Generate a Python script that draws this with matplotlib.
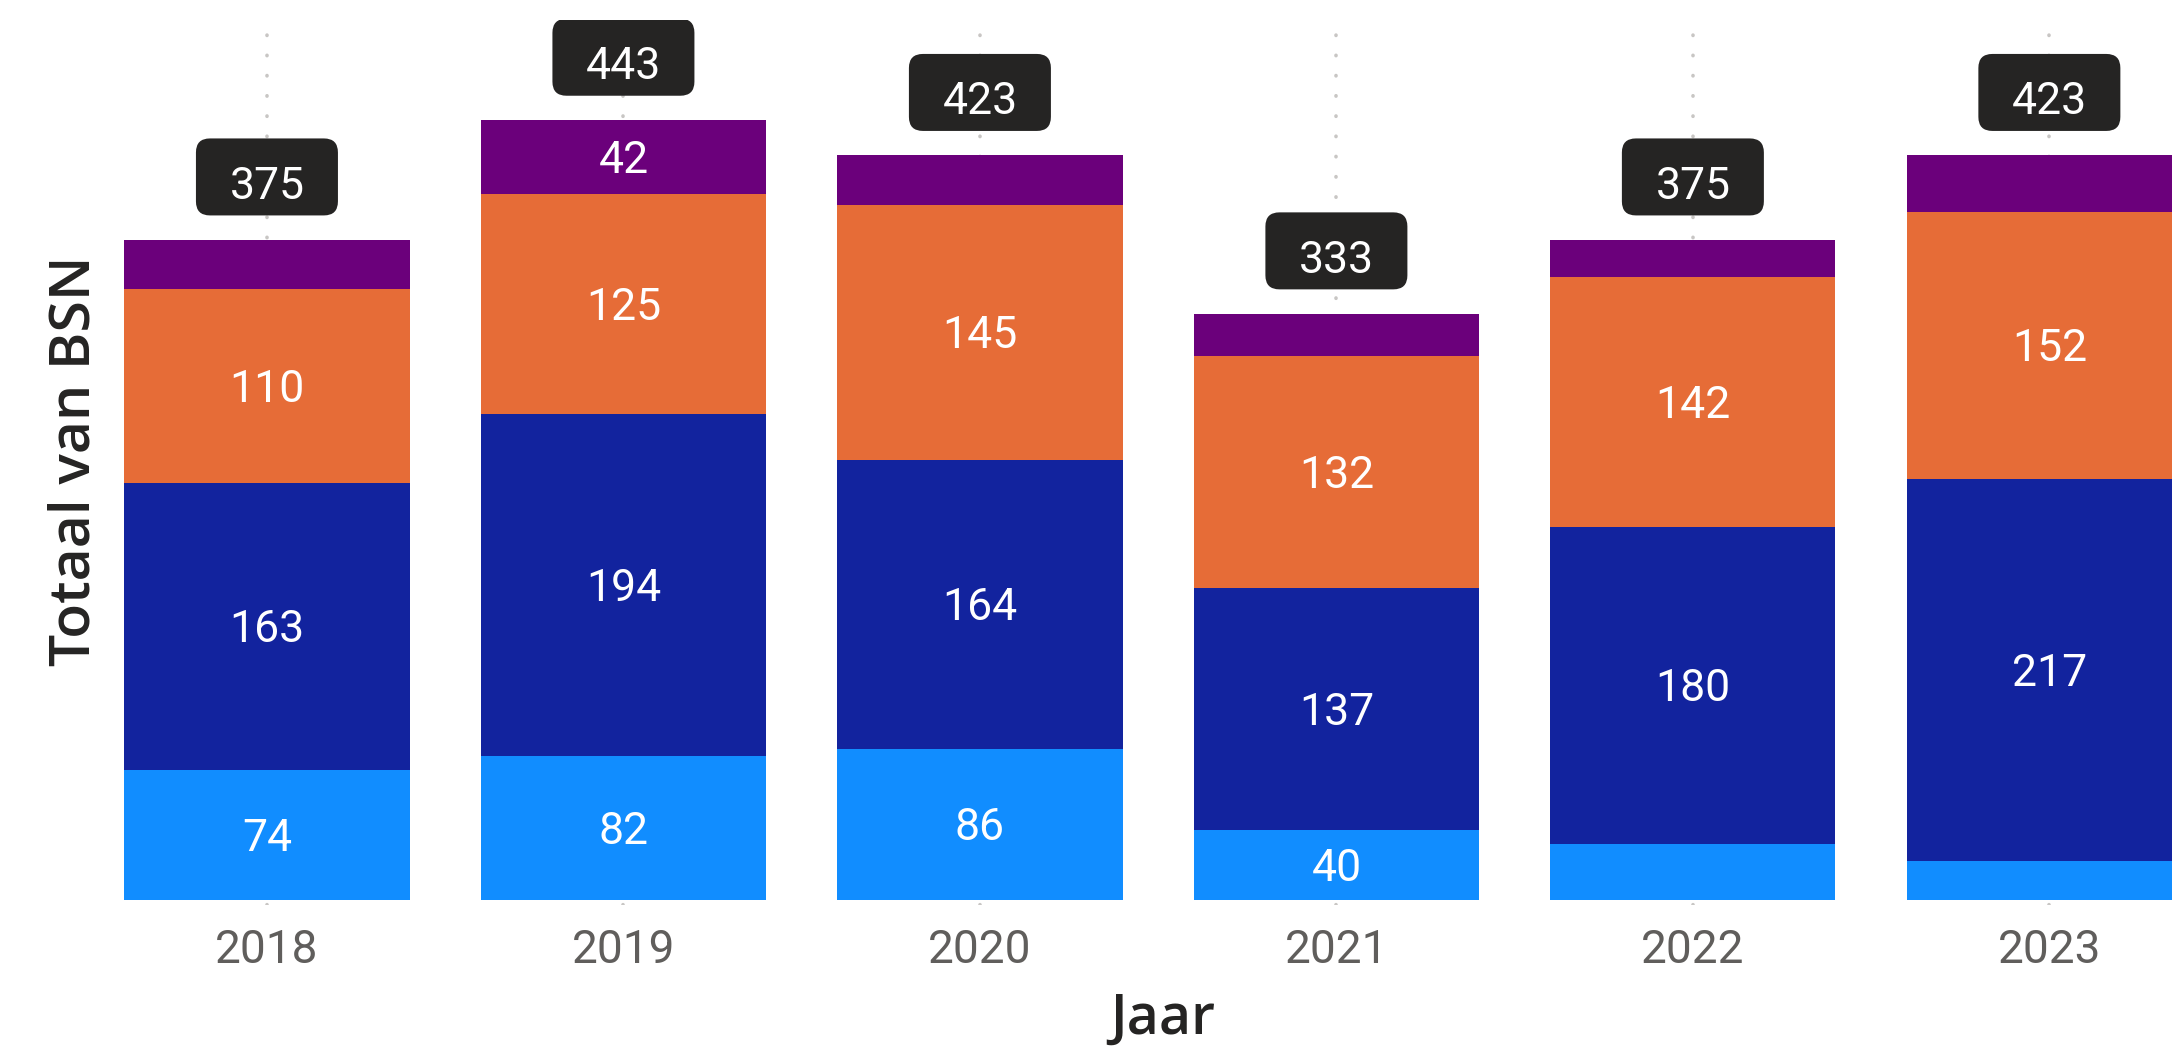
import numpy as np
import matplotlib.pyplot as plt
from matplotlib.patches import FancyBboxPatch

# Data
years = ['2018', '2019', '2020', '2021', '2022', '2023']
licht_blauw = [74, 82, 86, 40, 32, 22]
donker_blauw = [163, 194, 164, 137, 180, 217]
oranje = [110, 125, 145, 132, 142, 152]
paars = [28, 42, 28, 24, 21, 32]

series = [licht_blauw, donker_blauw, oranje, paars]
colors = ['#118DFF', '#12239E', '#E66C37', '#6B007B']

num_font = 'Roboto'
title_font = 'Open Sans'
label_size = 32
cap_px = label_size * 100 / 72 * 0.711  # digit height in pixels

fig = plt.figure(figsize=(21.72, 10.47), dpi=100)
ax = fig.add_axes([0.0497, 0.1353, 0.9503, 0.8457])

x = np.arange(len(years))
ax.set_xlim(-0.446, 5.344)
ax.set_ylim(-3, 500)

px_x = ax.bbox.width / (ax.get_xlim()[1] - ax.get_xlim()[0])
px_y = ax.bbox.height / (ax.get_ylim()[1] - ax.get_ylim()[0])

# dotted category gridlines behind the bars
ax.set_xticks(x)
ax.grid(axis='x', color='#C8C6C4', linewidth=2.6, linestyle=(0, (0.1, 5.5)),
        dash_capstyle='round', zorder=0)
ax.set_axisbelow(True)

bottom = np.zeros(len(years))
for vals, col in zip(series, colors):
    vals = np.array(vals)
    ax.bar(x, vals, width=0.8, bottom=bottom, color=col, zorder=2)
    for xi, b, v in zip(x, bottom, vals):
        if v >= 35:  # label only fits in tall enough segments
            ax.text(xi, b + v / 2 - cap_px / 2 / px_y, str(v), ha='center', va='baseline',
                    color='white', fontsize=label_size, family=num_font, zorder=3)
    bottom += vals

totals = bottom

# total labels in dark rounded boxes
box_w = 142 / px_x
box_h = 77 / px_y
gap = 63 / px_y
for xi, t in zip(x, totals):
    cy = t + gap
    box = FancyBboxPatch((xi - box_w / 2, cy - box_h / 2), box_w, box_h,
                         boxstyle=f'round,pad=0,rounding_size={14 / px_x}',
                         mutation_aspect=px_x / px_y,
                         facecolor='#252423', edgecolor='none', zorder=4)
    ax.add_patch(box)
    ax.text(xi, cy - (cap_px / 2 + 6) / px_y, str(int(t)), ha='center', va='baseline',
            color='white', fontsize=label_size, family=num_font, zorder=5)

ax.set_xticklabels(years, fontsize=33, color='#605E5C', family=num_font)
ax.tick_params(axis='x', length=0, pad=16)
ax.set_yticks([])
for s in ax.spines.values():
    s.set_visible(False)

ax.set_xlabel('Jaar', fontsize=40, color='#252423', family=title_font, fontweight='semibold')
ax.xaxis.set_label_coords(0.511, -0.1445)
ax.xaxis.label.set_va('baseline')
ax.set_ylabel('Totaal van BSN', fontsize=41, color='#252423', family=title_font,
              fontweight='semibold')
ax.yaxis.set_label_coords(-0.0156, 0.502)
ax.yaxis.label.set_va('center')

fig.savefig('out.png', dpi=100)
